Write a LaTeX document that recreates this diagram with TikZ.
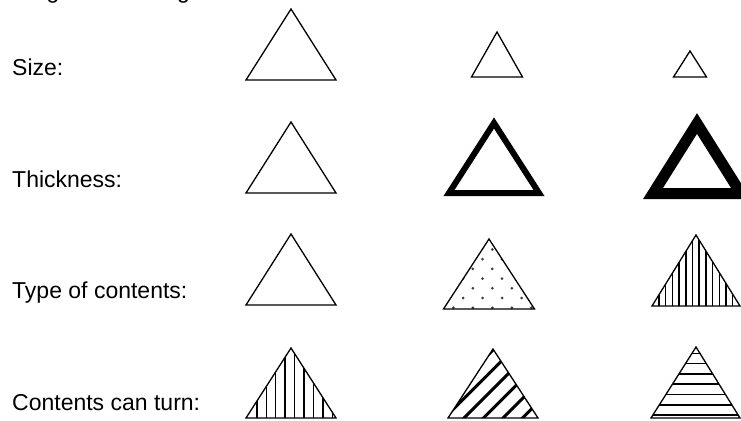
\documentclass[tikz,border=0pt]{standalone}
\usepackage{fontspec}
\setmainfont{Liberation Sans}
\begin{document}
\begin{tikzpicture}[x=1pt,y=-1pt, line join=miter,
  lbl/.style={anchor=base west, inner sep=0pt, font=\fontsize{23}{27}\selectfont},
  tri/.style={draw=black, line width=1.3pt},
  hatch/.style={draw=black, line width=1.5pt}]
\useasboundingbox (0,0) rectangle (741,420);
\begin{scope}
  \clip (0,0) rectangle (741,420);
  \node[lbl] (title) at (12,-1.5) {Diagram showing};
\end{scope}
% labels
\node[lbl] (lsize)  at (12,75)  {Size:};
\node[lbl] (lthick) at (12,187) {Thickness:};
\node[lbl] (ltype)  at (12,298) {Type of contents:};
\node[lbl] (lturn)  at (12,410) {Contents can turn:};
% row 1: size
\draw[tri] (246,80) -- (291,9) -- (336,80) -- cycle;
\draw[tri] (471.5,77) -- (497,32) -- (522.5,77) -- cycle;
\draw[tri] (673.5,77) -- (690,51) -- (706.5,77) -- cycle;
% row 2: thickness
\draw[tri] (246,193) -- (291,122) -- (336,193) -- cycle;
\draw[draw=black, line width=6pt] (449,193) -- (494,123) -- (539,193) -- cycle;
\draw[draw=black, line width=11pt] (653,193.5) -- (697,123.5) -- (741,193.5) -- cycle;
% row 3: type of contents
\draw[tri] (246,305) -- (291,234) -- (336,305) -- cycle;
\begin{scope}
  \clip (443.5,309) -- (489,239) -- (534.5,309) -- cycle;
  \foreach \j in {0,...,6}{
    \foreach \i in {-1,...,5}{
      \pgfmathsetmacro{\xx}{453.3+19.5*\i+9.7*mod(\j,2)}
      \pgfmathsetmacro{\yy}{307.7-9.7*\j}
      \fill[gray!50!black] (\xx,\yy) circle (1.5pt);
    }
  }
\end{scope}
\draw[tri] (443.5,309) -- (489,239) -- (534.5,309) -- cycle;
\begin{scope}
  \clip (652,306) -- (696,235) -- (740,306) -- cycle;
  \foreach \x in {659,665.7,...,740}{
    \draw[hatch] (\x,230) -- (\x,310);
  }
\end{scope}
\draw[tri] (652,306) -- (696,235) -- (740,306) -- cycle;
% row 4: contents can turn
\begin{scope}
  \clip (246,418) -- (291,348) -- (336,418) -- cycle;
  \foreach \x in {256.8,266.25,...,336}{
    \draw[hatch] (\x,340) -- (\x,420);
  }
\end{scope}
\draw[tri] (246,418) -- (291,348) -- (336,418) -- cycle;
\begin{scope}
  \clip (448,418) -- (493,349) -- (538,418) -- cycle;
  \foreach \k in {-6,...,5}{
    \draw[draw=black, line width=3pt] (462+19.5*\k,420) -- ++(100,-100);
  }
\end{scope}
\draw[tri] (448,418) -- (493,349) -- (538,418) -- cycle;
\begin{scope}
  \clip (651,418) -- (696,347) -- (740,418) -- cycle;
  \foreach \y in {415,405,394.5,384,374,363.5,353.5}{
    \draw[draw=black, line width=1.6pt] (640,\y) -- (741,\y);
  }
\end{scope}
\draw[tri] (651,418) -- (696,347) -- (740,418) -- cycle;
\end{tikzpicture}
\end{document}
